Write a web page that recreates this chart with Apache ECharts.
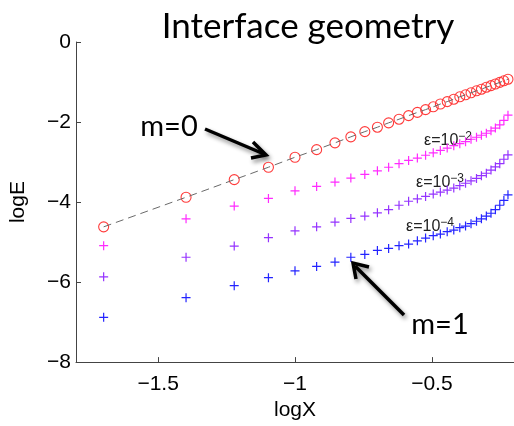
<!DOCTYPE html>
<html>
<head>
<meta charset="utf-8">
<script src="https://cdn.jsdelivr.net/npm/echarts@6/dist/echarts.min.js"></script>
<style>
  html, body { margin: 0; padding: 0; background: #fff; }
  #chart { width: 514px; height: 426px; }
</style>
</head>
<body>
<div id="chart"></div>
<script>
// log10 of the sampled X positions (X = 0.02 ... 0.60)
const logX = [-1.699, -1.398, -1.222, -1.097, -1.000, -0.921, -0.854, -0.796, -0.745, -0.699,
              -0.658, -0.620, -0.585, -0.553, -0.523, -0.495, -0.469, -0.444, -0.420, -0.398,
              -0.377, -0.357, -0.337, -0.319, -0.301, -0.284, -0.268, -0.252, -0.237, -0.222];

// m = 0 branch (circles on dashed line)
const logE_m0 = [-4.62, -3.88, -3.44, -3.13, -2.88, -2.69, -2.52, -2.37, -2.24, -2.13,
                 -2.02, -1.93, -1.84, -1.76, -1.69, -1.62, -1.55, -1.49, -1.43, -1.37,
                 -1.32, -1.27, -1.22, -1.18, -1.13, -1.09, -1.05, -1.01, -0.97, -0.93];

// m = 1 branch for three regularisation levels
const logE_eps2 = [-5.09, -4.42, -4.10, -3.91, -3.72, -3.61, -3.50, -3.40, -3.31, -3.22,
                   -3.13, -3.04, -2.96, -2.90, -2.83, -2.77, -2.71, -2.65, -2.59, -2.54,
                   -2.49, -2.43, -2.38, -2.33, -2.28, -2.22, -2.15, -2.07, -1.96, -1.83];
const logE_eps3 = [-5.87, -5.38, -5.10, -4.89, -4.72, -4.62, -4.50, -4.41, -4.35, -4.27,
                   -4.19, -4.08, -3.98, -3.92, -3.86, -3.80, -3.75, -3.70, -3.65, -3.59,
                   -3.53, -3.47, -3.41, -3.34, -3.28, -3.20, -3.12, -3.04, -2.93, -2.82];
const logE_eps4 = [-6.88, -6.39, -6.09, -5.89, -5.72, -5.61, -5.50, -5.38, -5.31, -5.21,
                   -5.16, -5.09, -5.05, -4.97, -4.90, -4.84, -4.80, -4.74, -4.70, -4.64,
                   -4.60, -4.54, -4.48, -4.42, -4.35, -4.28, -4.19, -4.08, -3.96, -3.82];

const xTicks = [-1.5, -1, -0.5];

const pair = (ys) => logX.map((x, i) => [x, ys[i]]);
const minus = (v) => String(v).replace('-', '\u2212');

const PLUS = 'path://M5 0V10M0 5H10';
const plusSeries = (ys, color) => ({
  type: 'scatter',
  data: pair(ys),
  symbol: PLUS,
  symbolSize: 9,
  itemStyle: { color: 'none', borderColor: color, borderWidth: 1.2, opacity: 1 },
  emphasis: { disabled: true },
  silent: true
});

const axisColor = '#444';
const labelFont = { fontFamily: 'Liberation Sans', fontSize: 21, color: '#000' };
const shadow = { shadowBlur: 4, shadowColor: 'rgba(0,0,0,0.45)', shadowOffsetX: 2, shadowOffsetY: 3 };

const epsLabel = (x, y, exp) => ({
  type: 'text', x: x, y: y,
  style: {
    text: '{a|\u03b5=10}{s|\u2212' + exp + '}',
    rich: {
      a: { font: '16px Liberation Sans', fill: '#222' },
      s: { font: '12px Liberation Sans', fill: '#222', padding: [0, 0, 9, 0] }
    },
    verticalAlign: 'middle'
  }
});

const chart = echarts.init(document.getElementById('chart'), null, { renderer: 'canvas' });
chart.setOption({
  animation: false,
  backgroundColor: '#fff',
  grid: { left: 76, top: 42, width: 440, height: 325 },
  xAxis: {
    type: 'value', min: -1.8, max: -0.2,
    axisLine: { show: true, onZero: false, lineStyle: { color: axisColor, width: 1 } },
    axisTick: { show: true, inside: true, length: 5, customValues: xTicks, lineStyle: { color: axisColor } },
    axisLabel: Object.assign({ margin: 12, customValues: xTicks, formatter: minus }, labelFont),
    splitLine: { show: false },
    name: 'logX', nameLocation: 'middle', nameGap: 30,
    nameTextStyle: labelFont
  },
  yAxis: {
    type: 'value', min: -8, max: 0, interval: 2,
    axisLine: { show: true, onZero: false, lineStyle: { color: axisColor, width: 1 } },
    axisTick: { show: true, inside: true, length: 5, lineStyle: { color: axisColor } },
    axisLabel: Object.assign({ margin: 5, formatter: minus }, labelFont),
    splitLine: { show: false },
    name: 'logE', nameLocation: 'middle', nameGap: 47,
    nameTextStyle: labelFont
  },
  series: [
    {
      type: 'line',
      data: pair(logE_m0),
      showSymbol: false,
      lineStyle: { color: '#6a6a6a', width: 1, type: [8, 5] },
      silent: true
    },
    {
      type: 'scatter',
      data: pair(logE_m0),
      symbol: 'circle',
      symbolSize: 10,
      itemStyle: { color: 'none', borderColor: '#ff3b3b', borderWidth: 1.1, opacity: 1 },
      silent: true
    },
    plusSeries(logE_eps2, '#ff2bff'),
    plusSeries(logE_eps3, '#9533ff'),
    plusSeries(logE_eps4, '#2424ff')
  ],
  graphic: [
    {
      type: 'text', x: 308, y: 27,
      style: { text: 'Interface geometry', font: '35px Lato', fill: '#000', align: 'center', verticalAlign: 'middle' }
    },
    {
      type: 'text', x: 169, y: 127,
      style: { text: 'm=0', font: '29px Lato', fill: '#000', align: 'center', verticalAlign: 'middle' }
    },
    {
      type: 'text', x: 440, y: 325,
      style: { text: 'm=1', font: '29px Lato', fill: '#000', align: 'center', verticalAlign: 'middle' }
    },
    // arrows pointing at the two branches
    {
      type: 'group', children: [
        { type: 'line', shape: { x1: 205, y1: 129, x2: 264, y2: 154 },
          style: Object.assign({ stroke: '#000', lineWidth: 3.5 }, shadow) },
        { type: 'polyline', shape: { points: [[253, 142], [266, 155], [251, 158]] },
          style: Object.assign({ stroke: '#000', lineWidth: 3.5, fill: null, lineJoin: 'miter' }, shadow) },
        { type: 'line', shape: { x1: 404, y1: 315, x2: 355, y2: 266 },
          style: Object.assign({ stroke: '#000', lineWidth: 3.5 }, shadow) },
        { type: 'polyline', shape: { points: [[356, 279], [353, 263], [369, 267]] },
          style: Object.assign({ stroke: '#000', lineWidth: 3.5, fill: null, lineJoin: 'miter' }, shadow) }
      ]
    },
    epsLabel(424, 141, 2),
    epsLabel(416, 183, 3),
    epsLabel(406, 227, 4)
  ]
});
</script>
</body>
</html>
